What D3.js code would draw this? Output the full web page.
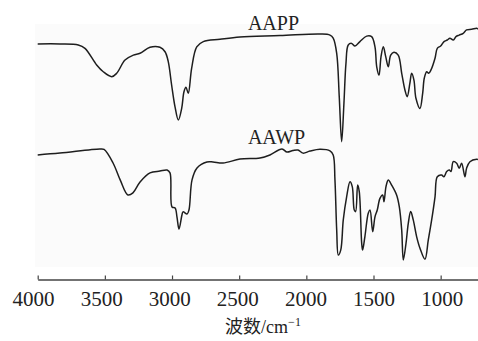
<!DOCTYPE html>
<html>
<head>
<meta charset="utf-8">
<script src="https://cdn.jsdelivr.net/npm/d3@7"></script>
<style>
  html, body { margin: 0; padding: 0; background: #fff; }
  svg { display: block; }
</style>
</head>
<body>
<svg id="chart" width="478" height="341"></svg>
<script>
// Wavenumbers (cm^-1) and relative transmittance (arbitrary %)
const aappWave = [4000,3834,3698,3648,3561,3512,3449,3412,3350,3288,3238,3164,3090,3052,3028,3003,2978,2953,2928,2911,2896,2879,2854,2816,2767,2643,2494,2196,1899,1824,1800,1774,1755,1737,1720,1705,1688,1663,1638,1601,1551,1514,1489,1476,1459,1444,1427,1409,1390,1372,1348,1316,1290,1266,1249,1229,1216,1199,1184,1154,1134,1122,1104,1089,1072,1042,1025,1000,975,951,931,906,886,862,832,807,769,732,722];
const aappT = [90.8,90.8,90.4,89.1,82.7,80.1,78.2,79.5,84.6,86.5,87.2,89.5,89.5,87.8,84.0,75.0,66.7,61.5,66.0,72.4,74.1,71.8,81.4,89.7,91.7,92.6,93.5,94.0,94.6,94.2,93.0,87.2,70.5,53.2,68.1,83.3,90.4,91.0,90.0,91.7,93.8,93.6,89.7,82.0,78.8,85.9,89.7,85.9,82.0,86.5,87.6,86.5,79.5,73.1,70.5,75.7,79.5,76.9,69.9,66.0,71.8,77.6,80.1,79.5,80.8,85.3,89.1,90.0,91.7,92.3,93.0,92.3,93.6,94.2,94.9,96.2,96.4,96.8,96.5];

const aawpWave = [4000,3834,3536,3506,3439,3386,3328,3291,3238,3164,3090,3037,3015,3000,2977,2963,2948,2926,2918,2888,2874,2851,2814,2740,2695,2620,2494,2345,2271,2181,2144,2100,2062,2025,1973,1899,1824,1800,1787,1774,1762,1744,1725,1700,1675,1658,1643,1633,1618,1606,1588,1581,1564,1539,1526,1506,1489,1472,1452,1432,1422,1407,1390,1365,1328,1308,1290,1278,1258,1241,1223,1204,1179,1154,1117,1092,1067,1042,1025,993,976,955,936,923,906,881,862,844,819,807,782,732,722];
const aawpT = [48.1,48.8,50.4,50.2,45.0,38.5,32.7,33.5,37.7,41.2,41.9,42.3,41.2,28.1,27.7,24.2,19.6,25.0,26.2,25.4,26.9,38.5,43.1,45.4,45.4,45.0,46.5,46.9,48.1,50.4,49.2,49.8,50.0,48.8,49.6,50.3,49.7,48.1,38.5,19.2,9.6,11.5,23.1,32.0,37.8,35.9,26.9,26.3,36.5,34.0,14.2,11.5,16.7,25.7,26.9,18.6,24.3,26.9,31.4,32.7,30.1,35.9,38.5,36.5,32.7,28.2,19.2,7.7,14.1,21.8,26.3,23.1,16.7,12.2,8.0,15.4,23.1,32.0,39.7,40.4,39.7,41.7,42.3,41.7,45.5,44.9,43.0,44.9,39.7,43.0,45.5,46.4,46.3];

const tickValues = [4000, 3500, 3000, 2500, 2000, 1500, 1000];
const seriesNames = ["AAPP", "AAWP"];
const labelPos = [[2435, 96.2], [2435, 52.3]];

const svg = d3.select("#chart");
const x = d3.scaleLinear().domain([4000, 722]).range([37.7, 478]);
const y = d3.scaleLinear().domain([0, 100]).range([280, 20]);
// label positions in the original are slightly offset from the ticks
const xLabel = d3.scaleLinear().domain([4000, 1000]).range([33, 441.7]);

// faint plot background
svg.append("rect").attr("x", 35).attr("y", 24).attr("width", 443).attr("height", 243)
  .attr("fill", "#fbfbfb");

const line = d3.line()
  .x(d => x(d[0])).y(d => y(d[1]))
  .curve(d3.curveCatmullRom.alpha(0.5));

const series = [d3.zip(aappWave, aappT), d3.zip(aawpWave, aawpT)];
svg.selectAll("path.trace").data(series).enter().append("path")
  .attr("class", "trace")
  .attr("d", line)
  .attr("fill", "none")
  .attr("stroke", "#1e1e1e")
  .attr("stroke-width", 1.5)
  .attr("stroke-linejoin", "round");

svg.selectAll("text.series").data(seriesNames).enter().append("text")
  .attr("class", "series")
  .attr("x", (d, i) => x(labelPos[i][0]))
  .attr("y", (d, i) => y(labelPos[i][1]))
  .attr("font-family", "'Liberation Serif', 'Times New Roman', serif")
  .attr("font-size", 20)
  .attr("fill", "#222")
  .text(d => d);

const axis = d3.axisBottom(x).tickValues(tickValues).tickSizeInner(-4).tickSizeOuter(0)
  .tickFormat(d3.format("d"));
const gx = svg.append("g").attr("transform", "translate(0,279.5)").call(axis)
  .attr("font-family", "'Liberation Serif', 'Times New Roman', serif");
gx.select(".domain").attr("stroke", "#444").attr("stroke-width", 1.3);
gx.selectAll(".tick line").attr("stroke", "#444").attr("stroke-width", 1.2);
gx.selectAll(".tick text")
  .attr("y", 26).attr("dy", 0)
  .attr("dx", d => xLabel(d) - x(d))
  .attr("font-family", "'Liberation Serif', 'Times New Roman', serif")
  .attr("font-size", 21)
  .attr("fill", "#222");

const title = svg.append("text")
  .attr("x", 263).attr("y", 333)
  .attr("text-anchor", "middle")
  .attr("fill", "#222")
  .attr("font-family", "'Liberation Serif', serif")
  .attr("font-size", 18);
title.append("tspan").attr("font-family", "'Noto Sans CJK SC', sans-serif").text("波数");
title.append("tspan").text("/cm");
title.append("tspan").attr("font-size", 12).attr("dy", -7).text("−1");
</script>
</body>
</html>
